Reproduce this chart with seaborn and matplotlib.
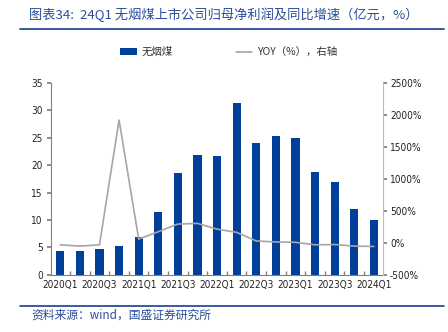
import numpy as np
import pandas as pd
import matplotlib
matplotlib.use("Agg")
import matplotlib.pyplot as plt
from matplotlib.patches import Patch
from matplotlib.lines import Line2D
import seaborn as sns

quarters = ["2020Q1", "2020Q2", "2020Q3", "2020Q4",
            "2021Q1", "2021Q2", "2021Q3", "2021Q4",
            "2022Q1", "2022Q2", "2022Q3", "2022Q4",
            "2023Q1", "2023Q2", "2023Q3", "2023Q4",
            "2024Q1"]
profit = [4.3, 4.3, 4.7, 5.3, 6.9, 11.5, 18.5, 21.9, 21.7,
          31.3, 24.1, 25.3, 25.0, 18.7, 16.9, 12.0, 10.0]
yoy = [-30, -50, -30, 1920, 60, 175, 295, 305, 215,
       165, 30, 15, 10, -30, -25, -50, -55]

BAR = "#00409A"
LINE = "#A6A6A6"
TXT = "#2A4D9B"
AXC = "#808080"

sns.set_theme(style="white")
plt.rcParams["font.family"] = ["DejaVu Sans", "Noto Sans CJK SC"]

df = pd.DataFrame({"quarter": quarters, "profit": profit, "yoy": yoy})
df["pos"] = np.arange(len(df))

fig = plt.figure(figsize=(4.48, 3.32), dpi=100)
ax = fig.add_axes([0.114, 0.172, 0.741, 0.578])

sns.barplot(data=df, x="quarter", y="profit", color=BAR, width=0.42,
            saturation=1, ax=ax, edgecolor="none")
ax.set_xlim(-0.47, len(df) - 0.53)
ax.set_ylim(0, 35)
ax.set_yticks(range(0, 36, 5))
ax.set_xlabel("")
ax.set_ylabel("")

ax2 = ax.twinx()
sns.lineplot(data=df, x="pos", y="yoy", color=LINE, linewidth=1.2, ax=ax2)
ax2.set_ylim(-500, 2500)
ax2.set_yticks(range(-500, 2501, 500))
ax2.set_yticklabels([f"{v}%" for v in range(-500, 2501, 500)])
ax2.set_ylabel("")
ax2.set_xlabel("")
ax2.set_xlim(-0.47, len(df) - 0.53)

# category labels every other quarter, boundary ticks along the base
ax.set_xticks(np.arange(0, len(df), 2))
ax.set_xticklabels(quarters[::2])
ax.set_xticks(np.arange(0.5, len(df) - 1, 1), minor=True)
ax.tick_params(axis="x", which="major", length=0, pad=4, colors="#222222")
ax.tick_params(axis="x", which="minor", length=3, direction="in",
               color=AXC, bottom=True)
ax.tick_params(axis="y", length=3, direction="out", color=AXC,
               pad=3, left=True, labelcolor="#222222")
ax2.tick_params(axis="y", length=3, direction="out", color=AXC,
                pad=2, right=True, labelcolor="#222222")
for lab in ax.get_xticklabels() + ax.get_yticklabels() + ax2.get_yticklabels():
    lab.set_fontsize(7.2)
    lab.set_fontstretch("condensed")

for a in (ax, ax2):
    for s in a.spines.values():
        s.set_visible(False)
ax.spines["left"].set_visible(True)
ax.spines["left"].set_color(AXC)
ax.spines["left"].set_linewidth(0.8)
ax.spines["bottom"].set_visible(True)
ax.spines["bottom"].set_color(AXC)
ax.spines["bottom"].set_linewidth(0.8)
ax2.spines["right"].set_visible(True)
ax2.spines["right"].set_color("#BFBFBF")
ax2.spines["right"].set_linewidth(0.8)

cjk = ["Noto Sans CJK SC", "DejaVu Sans"]

handles = [Patch(facecolor=BAR, edgecolor="none"),
           Line2D([], [], color=LINE, linewidth=1.2)]
leg = fig.legend(handles, ["无烟煤", "YOY（%），右轴"], loc="center left",
                 bbox_to_anchor=(0.268, 0.843), ncol=2, frameon=False,
                 borderpad=0, borderaxespad=0,
                 prop={"family": cjk, "size": 7.5}, handlelength=1.6,
                 handleheight=0.7, columnspacing=6, handletextpad=0.5)
for t in leg.get_texts():
    t.set_color("#333333")

fig.text(0.065, 0.957, "图表34:  24Q1 无烟煤上市公司归母净利润及同比增速（亿元，%）",
         family=cjk, fontsize=9.5, color=TXT, ha="left", va="center",
         style="italic")
fig.text(0.07, 0.051, "资料来源：wind，国盛证券研究所", family=cjk,
         fontsize=8.5, color=TXT, ha="left", va="center", style="italic")
fig.add_artist(Line2D([0.045, 0.99], [0.914, 0.914], color="#2A4D9B",
                      linewidth=1.3))
fig.add_artist(Line2D([0.045, 0.99], [0.078, 0.078], color="#2A4D9B",
                      linewidth=1.3))

fig.savefig("out.png", dpi=100)
